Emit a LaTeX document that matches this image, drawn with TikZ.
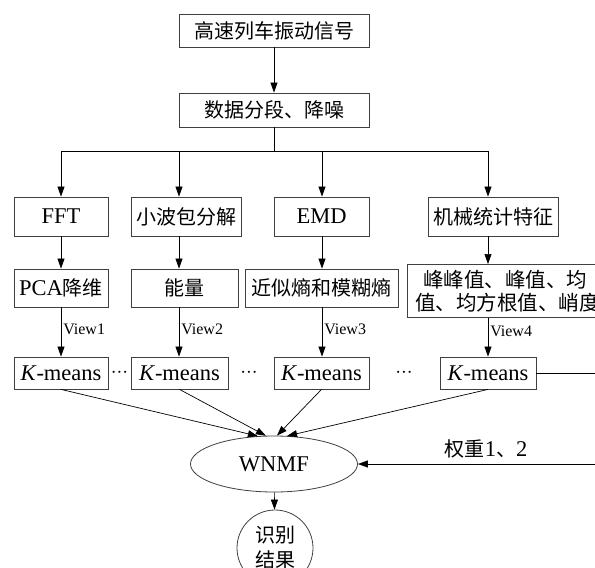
\documentclass[tikz,border=0pt]{standalone}
\usepackage{fontspec}
\setmainfont{Liberation Serif}
\newfontfamily\cjk{Noto Sans CJK SC}
\usetikzlibrary{arrows.meta,shapes.geometric}
\begin{document}
\begin{tikzpicture}[x=1pt,y=-1pt,
  font=\fontsize{22.5}{26}\selectfont,
  cjkf/.style={font=\fontsize{20}{24}\selectfont\cjk},
  box/.style={draw=black!75, line width=0.8pt, inner sep=0pt, align=center, minimum height=38pt},
  con/.style={line width=0.7pt, -{Triangle[length=10pt,width=7pt]}},
  lin/.style={line width=0.7pt},
  lab/.style={font=\fontsize{16}{19}\selectfont, anchor=west, inner sep=2pt},
  dots/.style={font=\fontsize{22}{24}\selectfont, inner sep=0pt}]
\useasboundingbox (0,0) rectangle (595,568);
\clip (0,0) rectangle (595,568);
% row 1-2
\node[box, minimum width=190pt, minimum height=33pt, cjkf] (b1) at (274,30.5) {高速列车振动信号};
\node[box, minimum width=190pt, minimum height=34pt, cjkf] (b2) at (274,110) {数据分段、降噪};
% row 3
\node[box, minimum width=94pt, minimum height=39pt] (f1) at (61,216.5) {FFT};
\node[box, minimum width=110pt, minimum height=39pt, cjkf] (f2) at (186,216.5) {小波包分解};
\node[box, minimum width=95pt, minimum height=39pt] (f3) at (321.5,216.5) {EMD};
\node[box, minimum width=130pt, minimum height=39pt, cjkf] (f4) at (493,216.5) {机械统计特征};
% row 4
\node[box, minimum width=94pt] (g1) at (61,288) {PCA{\fontsize{20}{24}\selectfont\cjk 降维}};
\node[box, minimum width=107pt, cjkf] (g2) at (184.5,288) {能量};
\node[box, minimum width=153pt, cjkf] (g3) at (321.5,288) {近似熵和模糊熵};
\node[box, anchor=north west, minimum width=200pt, minimum height=53pt, align=left, inner xsep=2pt,
      font=\fontsize{20.5}{23}\selectfont\cjk] (g4) at (407,264) {\hspace*{8pt}峰峰值、峰值、均\\值、均方根值、峭度};
% row 5
\node[box, minimum width=94pt, minimum height=32pt] (k1) at (61,373) {\textit{K}-means};
\node[box, minimum width=97pt, minimum height=32pt] (k2) at (179.5,373) {\textit{K}-means};
\node[box, minimum width=95pt, minimum height=32pt] (k3) at (321.5,373) {\textit{K}-means};
\node[box, minimum width=96pt, minimum height=32pt] (k4) at (488,373) {\textit{K}-means};
\node[dots] (d1) at (119.5,373) {$\mathord{\cdot}\mathord{\cdot}\mathord{\cdot}$};
\node[dots] (d2) at (249,373) {$\mathord{\cdot}\mathord{\cdot}\mathord{\cdot}$};
\node[dots] (d3) at (404,373) {$\mathord{\cdot}\mathord{\cdot}\mathord{\cdot}$};
% bottom
\node[draw=black!75, line width=0.8pt, ellipse, minimum width=167pt, minimum height=56pt, inner sep=0pt] (w) at (274,464) {WNMF};
\node[draw=black!75, line width=0.8pt, circle, minimum size=76pt, inner sep=0pt, align=center,
      font=\fontsize{20}{25}\selectfont\cjk] (c) at (275,548) {识别\\结果};
\node (wt) at (486,449) {{\fontsize{20}{24}\selectfont\cjk 权重}1{\fontsize{20}{24}\selectfont\cjk 、}2};
% connectors
\coordinate (bus) at (274,151);
\coordinate (bl) at (61,151);
\coordinate (br) at (488,151);
\coordinate (bx2) at (179,151);
\coordinate (bx3) at (322,151);
\coordinate (e1) at (600,373);
\coordinate (e2) at (600,464);
\draw[con] (b1) -- (b2);
\draw[lin] (b2.south) -- (bus);
\draw[lin] (bl) -- (br);
\draw[con] (bl) -- (f1.north);
\draw[con] (bx2) -- (bx2 |- f2.north);
\draw[con] (bx3) -- (bx3 |- f3.north);
\draw[con] (br) -- (br |- f4.north);
\draw[con] (f1) -- (g1);
\draw[con] (bx2 |- f2.south) -- (bx2 |- g2.north);
\draw[con] (bx3 |- f3.south) -- (bx3 |- g3.north);
\draw[con] (br |- f4.south) -- (br |- g4.north);
\draw[con] (g1) -- node[lab, pos=0.45] {View1} (k1);
\draw[con] (bx2 |- g2.south) -- node[lab, pos=0.45] {View2} (bx2 |- k2.north);
\draw[con] (bx3 |- g3.south) -- node[lab, pos=0.45] {View3} (bx3 |- k3.north);
\draw[con] (br |- g4.south) -- node[lab, pos=0.35] {View4} (k4.north);
\draw[con] (k1.south) -- (w.120);
\draw[con] (k2.south) -- (w.106);
\draw[con] (k3.south) -- (w.84);
\draw[con] (k4.south) -- (w.65);
\draw[con] (w) -- (c);
\draw[lin] (k4.east) -- (e1);
\draw[con] (e2) -- (w.east);
\end{tikzpicture}
\end{document}
